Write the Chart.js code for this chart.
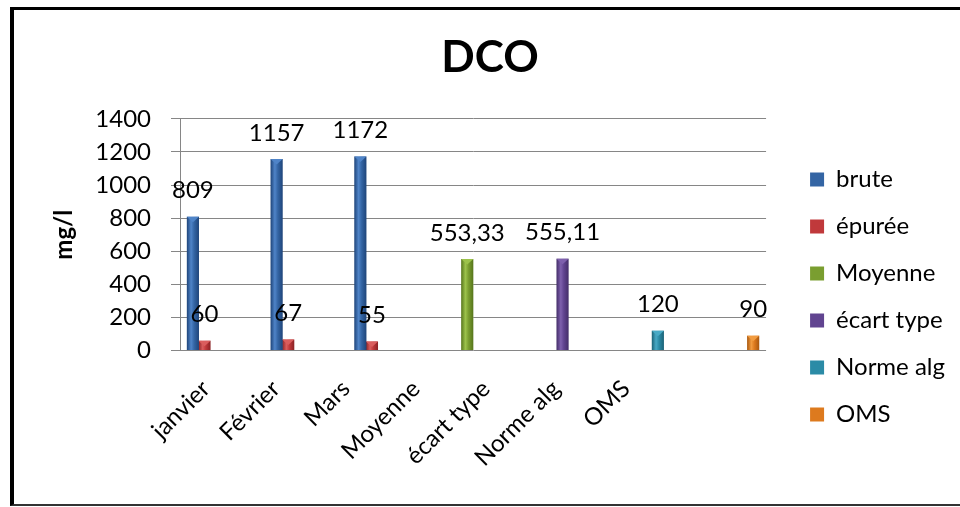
<!DOCTYPE html>
<html>
<head>
<meta charset="utf-8">
<script src="https://cdn.jsdelivr.net/npm/chart.js@4"></script>
<style>
  body { margin: 0; background: #fff; }
  #wrap { position: relative; width: 960px; height: 507px; }
  #frame {
    position: absolute; left: 10px; top: 7px; width: 950px; height: 499px;
    box-sizing: border-box; border-top: 3px solid #000; border-left: 4px solid #000;
    border-bottom: 2px solid #333; pointer-events: none;
  }
</style>
</head>
<body>
<div id="wrap">
  <canvas id="c" width="960" height="507"></canvas>
  <div id="frame"></div>
</div>
<script>
const categories = ["janvier", "Février", "Mars", "Moyenne", "écart type", "Norme alg", "OMS"];
const brute = [809, 1157, 1172, null, null, null, null];
const epuree = [60, 67, 55, null, null, null, null];
const moyenne = [null, null, null, 553.33, null, null, null];
const ecartType = [null, null, null, null, 555.11, null, null];
const normeAlg = [null, null, null, null, null, 120, null];
const oms = [null, null, null, null, null, null, 90];
const yMax = 1400;
const yStep = 200;

// base, dark edge, light highlight
const palette = [
  ["#3465a4", "#1e4479", "#4f84c8"],
  ["#c0393b", "#8a2224", "#da5d5d"],
  ["#7a9e30", "#56751b", "#9cc24b"],
  ["#614490", "#432d68", "#7e60ad"],
  ["#2b8ba6", "#1b6276", "#48aac6"],
  ["#dd7a1e", "#a8570e", "#f29c40"],
];

const FONT = "Lato, 'Open Sans', sans-serif";
Chart.defaults.font.family = FONT;
Chart.defaults.color = "#000";

const fmt = (v) => String(v).replace(".", ",");

const barShading = {
  id: "barShading",
  beforeDatasetsDraw(chart) {
    const ctx = chart.ctx;
    chart.data.datasets.forEach((ds, i) => {
      const [base, dark, light] = palette[i];
      chart.getDatasetMeta(i).data.forEach((el, j) => {
        if (ds.data[j] == null) return;
        const g = ctx.createLinearGradient(el.x - el.width / 2, 0, el.x + el.width / 2, 0);
        g.addColorStop(0, dark);
        g.addColorStop(0.35, light);
        g.addColorStop(0.6, base);
        g.addColorStop(1, dark);
        el.options = Object.assign({}, el.options, { backgroundColor: g });
      });
    });
  },
  afterDatasetsDraw(chart) {
    const ctx = chart.ctx;
    ctx.save();
    chart.data.datasets.forEach((ds, i) => {
      chart.getDatasetMeta(i).data.forEach((el, j) => {
        const v = ds.data[j];
        if (v == null) return;
        // small bevel on top of the bar
        const w = el.width / 2;
        ctx.fillStyle = palette[i][2];
        ctx.beginPath();
        ctx.moveTo(el.x - w, el.y);
        ctx.lineTo(el.x + w, el.y);
        ctx.lineTo(el.x, el.y + w * 0.9);
        ctx.closePath();
        ctx.fill();
        // value label
        ctx.fillStyle = "#000";
        ctx.font = "24px " + FONT;
        ctx.textAlign = "center";
        ctx.textBaseline = "middle";
        ctx.fillText(fmt(v), el.x, el.y - 26);
      });
    });
    ctx.restore();
  },
};

const labels = ["brute", "épurée", "Moyenne", "écart type", "Norme alg", "OMS"];
const series = [brute, epuree, moyenne, ecartType, normeAlg, oms];

function draw() {
  new Chart(document.getElementById("c"), {
    type: "bar",
    data: {
      labels: categories,
      datasets: series.map((d, i) => ({
        label: labels[i],
        data: d,
        backgroundColor: palette[i][0],
        borderWidth: 0,
        categoryPercentage: 0.83,
        barPercentage: 1.05,
      })),
    },
    options: {
      responsive: false,
      animation: false,
      layout: { padding: { left: 25, right: 5, top: 10, bottom: 3 } },
      plugins: {
        title: {
          display: true,
          text: "DCO",
          font: { size: 44, weight: "bold" },
          color: "#000",
          padding: { top: 21, bottom: 35 },
        },
        legend: {
          position: "right",
          align: "start",
          title: { display: true, text: " ", font: { size: 1, lineHeight: 1 }, padding: { top: 146.5, bottom: 0 } },
          labels: {
            font: { size: 24, lineHeight: "37px" },
            color: "#000",
            boxWidth: 14,
            boxHeight: 14,
            padding: 10,
            // one-line arrays so the row height follows the font lineHeight
            generateLabels: (chart) =>
              Chart.defaults.plugins.legend.labels.generateLabels(chart).map((l) => ({ ...l, text: [l.text] })),
          },
        },
        tooltip: { enabled: false },
      },
      scales: {
        x: {
          display: false,
        },
        // category labels: Excel spreads them a bit tighter than the bars
        xl: {
          type: "linear",
          position: "bottom",
          offset: false,
          min: -0.37,
          max: 8.0,
          grid: { display: false, drawTicks: false },
          border: { display: false },
          afterBuildTicks: (s) => { s.ticks = categories.map((_, i) => ({ value: i })); },
          afterFit: (s) => { s.height += 8; },
          ticks: {
            autoSkip: false,
            font: { size: 24 },
            color: "#000",
            maxRotation: 45,
            minRotation: 45,
            padding: 24,
            callback: (v) => categories[v],
          },
        },
        y: {
          min: 0,
          max: yMax,
          ticks: { stepSize: yStep, autoSkip: false, font: { size: 24 }, color: "#000", padding: 20, callback: (v) => String(v) },
          grid: { color: "#868686", tickLength: 9 },
          border: { display: true, color: "#868686" },
          title: {
            display: true,
            text: "mg/l",
            font: { size: 24, weight: "bold" },
            color: "#000",
            padding: { top: 25, bottom: 14 },
          },
        },
        gap: {
          position: "right",
          display: true,
          grid: { display: false },
          border: { display: false },
          ticks: { display: false },
          afterFit: (s) => { s.width = 34; },
        },
      },
    },
    plugins: [barShading],
  });
}

Promise.all([
  document.fonts.load("24px Lato"),
  document.fonts.load("bold 24px Lato"),
  document.fonts.load("bold 44px Lato"),
]).then(draw, draw);
</script>
</body>
</html>
